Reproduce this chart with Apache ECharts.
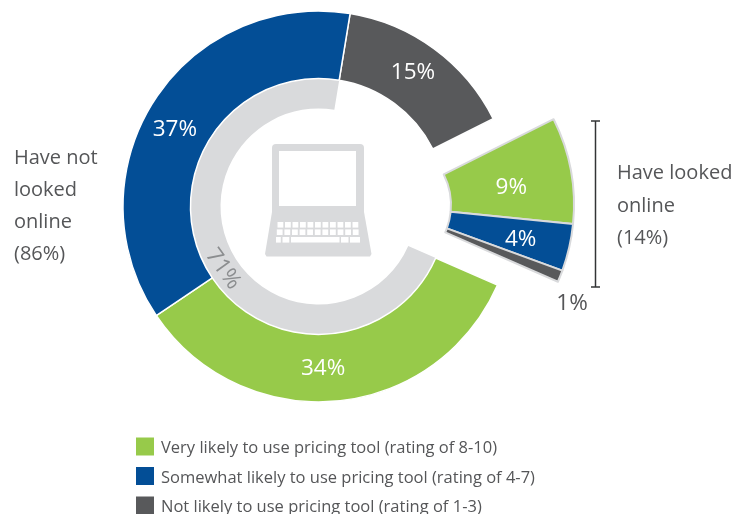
<!DOCTYPE html>
<html>
<head>
    <meta charset="utf-8">
    <title>Pricing tool</title>
    <style>
        html, body { margin: 0; padding: 0; background: #fff; }
    </style>
</head>
<body>
    <div id="main" style="width: 743px; height: 514px;"></div>
    <script src="https://cdn.jsdelivr.net/npm/echarts@6/dist/echarts.min.js"></script>
    <script type="text/javascript">
        // categories and values
        var categories = [
            'Very likely to use pricing tool (rating of 8-10)',
            'Somewhat likely to use pricing tool (rating of 4-7)',
            'Not likely to use pricing tool (rating of 1-3)'
        ];
        var colors = ['#97ca4a', '#034e96', '#58595b'];
        var notLookedValues = [34, 37, 15];
        var lookedValues = [9, 4, 1];
        var notLookedShare = 71;
        var leftLabel = ['Have not', 'looked', 'online', '(86%)'];
        var rightLabel = ['Have looked', 'online', '(14%)'];

        var font = '"Open Sans", sans-serif';
        var textColor = '#555658';
        var ringGray = '#d9dadc';
        var startAngle = 80.7; // top edge of the 15% slice

        var chartDom = document.getElementById('main');
        var myChart = echarts.init(chartDom);

        function sum(arr) {
            return arr.reduce(function (a, b) { return a + b; }, 0);
        }

        // label nudges from the default slice middle
        var outerNudge = { 0: [-3, -1], 2: [-10, -2], 3: [-5, 12] };
        var explodedNudge = { 0: [-2, 7], 1: [8.5, 5] };

        // laptop drawing
        var laptop = [
            { type: 'rect', shape: { x: 272, y: 144, width: 92, height: 80, r: 4 }, style: { fill: ringGray } },
            { type: 'polygon', shape: { points: [[272, 212], [364, 212], [371.5, 254], [370, 256.5], [266.5, 256.5], [265, 254]] }, style: { fill: ringGray } },
            { type: 'rect', shape: { x: 279, y: 151, width: 77, height: 55 }, style: { fill: '#fff' } }
        ];
        function key(x, y, w, h) {
            laptop.push({ type: 'rect', shape: { x: x, y: y, width: w, height: h }, style: { fill: '#fff' } });
        }
        for (var i = 0; i < 11; i++) {
            key(277.5 + i * 7.5, 222, 5.8, 5.6);
            key(276.8 + i * 7.6, 229.4, 5.8, 5.6);
        }
        key(276, 237, 4.8, 5.6);
        key(282.5, 237, 6.8, 5.6);
        key(291, 237, 48.5, 5.6);
        key(341, 237, 7.5, 5.6);
        key(350, 237, 10, 5.6);

        function textLines(lines, x, y, step) {
            return lines.map(function (t, i) {
                return { type: 'text', x: x, y: y + i * step, style: { text: t, font: '20px ' + font, fill: textColor, verticalAlign: 'middle' } };
            });
        }

        var bracket = [
            { type: 'line', shape: { x1: 595.5, y1: 121, x2: 595.5, y2: 287 }, style: { stroke: '#333436', lineWidth: 1.5 } },
            { type: 'line', shape: { x1: 591, y1: 121, x2: 600, y2: 121 }, style: { stroke: '#333436', lineWidth: 1.5 } },
            { type: 'line', shape: { x1: 591, y1: 287, x2: 600, y2: 287 }, style: { stroke: '#333436', lineWidth: 1.5 } }
        ];

        var option = {
            animation: false,
            legend: {
                orient: 'vertical',
                left: 136,
                top: 437.5,
                height: 100,
                itemWidth: 18,
                itemHeight: 18,
                itemGap: 10,
                icon: 'rect',
                selectedMode: false,
                padding: 0,
                data: categories,
                itemStyle: { borderWidth: 0 },
                formatter: function (name) {
                    return '{a|' + name + '}';
                },
                textStyle: {
                    rich: {
                        a: { fontFamily: font, fontSize: 16.5, color: textColor, padding: [4, 0, 0, 2] }
                    }
                }
            },
            graphic: laptop.concat(bracket).concat(textLines(leftLabel, 14, 158.5, 32)).concat(textLines(rightLabel, 617, 173.5, 32.5)),
            series: [
                {
                    // grey inner ring, 71%
                    type: 'pie',
                    center: [318.5, 206.5],
                    radius: [98, 128],
                    startAngle: startAngle + 360 - (notLookedValues[2] + sum(lookedValues)) * 3.6,
                    clockwise: false,
                    silent: true,
                    label: { show: false },
                    labelLine: { show: false },
                    data: [
                        { value: 100 - notLookedShare, name: 'rest', itemStyle: { color: 'transparent' } },
                        { value: notLookedShare, name: 'share', itemStyle: { color: ringGray } }
                    ]
                },
                {
                    type: 'pie',
                    center: [318.5, 206.5],
                    radius: [128, 195.5],
                    startAngle: startAngle,
                    silent: true,
                    itemStyle: { borderColor: '#fff', borderWidth: 1.5 },
                    labelLine: { show: false },
                    label: {
                        show: true,
                        position: 'inside',
                        formatter: '{c}%',
                        color: '#fff',
                        fontFamily: font,
                        fontSize: 22.5
                    },
                    labelLayout: function (p) {
                        var n = outerNudge[p.dataIndex];
                        return n ? { dx: n[0], dy: n[1] } : {};
                    },
                    data: [
                        { value: notLookedValues[2], name: categories[2], itemStyle: { color: colors[2] } },
                        { value: sum(lookedValues), name: 'gap', itemStyle: { color: 'transparent', borderWidth: 0 }, label: { show: false } },
                        { value: notLookedValues[0], name: categories[0], itemStyle: { color: colors[0] } },
                        { value: notLookedValues[1], name: categories[1], itemStyle: { color: colors[1] } }
                    ]
                },
                {
                    // slices pulled out to the right
                    type: 'pie',
                    center: [383, 205],
                    radius: [68, 191],
                    startAngle: startAngle - notLookedValues[2] * 3.6,
                    silent: true,
                    itemStyle: { borderColor: ringGray, borderWidth: 2 },
                    labelLine: { show: false },
                    label: {
                        show: true,
                        position: 'inside',
                        formatter: '{c}%',
                        color: '#fff',
                        fontFamily: font,
                        fontSize: 22.5
                    },
                    labelLayout: function (p) {
                        var n = explodedNudge[p.dataIndex];
                        return n ? { dx: n[0], dy: n[1] } : {};
                    },
                    data: [
                        { value: lookedValues[0], name: categories[0], itemStyle: { color: colors[0] } },
                        { value: lookedValues[1], name: categories[1], itemStyle: { color: colors[1] } },
                        { value: lookedValues[2], name: categories[2], itemStyle: { color: colors[2] }, label: { show: false } },
                        { value: sum(notLookedValues), name: 'gap2', itemStyle: { color: 'transparent', borderWidth: 0 }, label: { show: false } }
                    ]
                }
            ]
        };
        // labels that sit outside the slice flow
        option.graphic.push({ type: 'text', x: 572, y: 304, style: { text: lookedValues[2] + '%', font: '22.5px ' + font, fill: textColor, align: 'center', verticalAlign: 'middle' } });
        option.graphic.push({ type: 'text', x: 223, y: 269, rotation: -54.5 * Math.PI / 180, z: 10, style: { text: notLookedShare + '%', font: '22.5px ' + font, fill: '#8b8d8f', align: 'center', verticalAlign: 'middle' } });

        myChart.setOption(option);
    </script>
</body>
</html>
